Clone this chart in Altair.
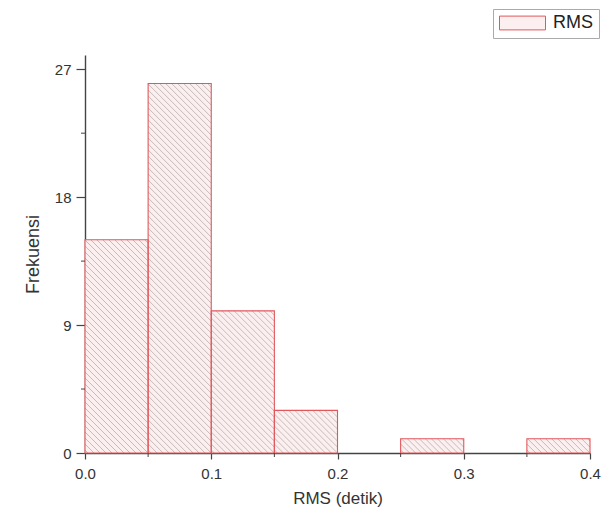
import altair as alt
import pandas as pd
import numpy as np

# data
bin_start = [0.0, 0.05, 0.10, 0.15, 0.20, 0.25, 0.30, 0.35]
bin_end = [0.05, 0.10, 0.15, 0.20, 0.25, 0.30, 0.35, 0.40]
freq = [15, 26, 10, 3, 0, 1, 0, 1]
series = "RMS"
y_ticks = [0, 9, 18, 27]
y_minor = [4.5, 13.5, 22.5]
x_ticks = [0.0, 0.1, 0.2, 0.3, 0.4]
x_minor = [0.05, 0.15, 0.25, 0.35]

W, H = 505, 398
XMAX, YMAX = 0.4, 28

bars = pd.DataFrame({"x0": bin_start, "x1": bin_end, "f": freq, "s": series})
bars = bars[bars["f"] > 0]

# hatch segments (pattern fill emulation), derived from the bars
kx, ky = W / XMAX, H / YMAX
step = 6.0
segs = []
for _, r in bars.iterrows():
    X0, X1, Hh = r.x0 * kx, r.x1 * kx, r.f * ky
    c = X0 + step / 2
    while c < X1 + Hh:
        sx = max(X0, c - Hh)
        ex = min(X1, c)
        if ex > sx:
            segs.append({"hx": sx / kx, "hy": (c - sx) / ky,
                         "hx2": ex / kx, "hy2": (c - ex) / ky})
        c += step
hatch = pd.DataFrame(segs)

RED = "#e0585c"
xs = alt.Scale(domain=[0, XMAX], nice=False, zero=False)
ys = alt.Scale(domain=[0, YMAX], nice=False)
xaxis = alt.Axis(values=x_ticks, format=".1f", title="RMS (detik)", labelFlush=False,
                 grid=False, tickSize=6, labelPadding=7, titlePadding=9,
                 titleFontSize=17)
yaxis = alt.Axis(values=y_ticks, title="Frekuensi", grid=False, labelFlush=False,
                 tickSize=9, labelPadding=5, titlePadding=12, titleFontSize=18)

fill_layer = alt.Chart(bars).mark_rect(strokeWidth=0).encode(
    x=alt.X("x0:Q", scale=xs, axis=xaxis),
    x2="x1:Q",
    y=alt.Y("f:Q", scale=ys, axis=yaxis),
    y2=alt.datum(0),
    fill=alt.Fill("s:N", scale=alt.Scale(range=["#fcefef"]),
                  legend=alt.Legend(title=None, orient="none", legendX=408, legendY=-46,
                                    symbolType="M-1,-0.3L1,-0.3L1,0.3L-1,0.3Z",
                                    symbolSize=2116, symbolStrokeColor=RED,
                                    symbolFillColor="#f7dada",
                                    symbolStrokeWidth=1, symbolOpacity=1, clipHeight=16,
                                    labelFontSize=18, labelFont="Liberation Sans",
                                    labelColor="#222", strokeColor="#aaa", padding=6,
                                    fillColor="white", labelOffset=7)))

hatch_layer = alt.Chart(hatch).mark_rule(color="#b8adad", strokeWidth=0.8).encode(
    x=alt.X("hx:Q", scale=xs, axis=xaxis),
    y=alt.Y("hy:Q", scale=ys, axis=yaxis),
    x2="hx2:Q", y2="hy2:Q")

outline_layer = alt.Chart(bars).mark_rect(fill=None, filled=False, stroke=RED,
                                          strokeWidth=1.1).encode(
    x=alt.X("x0:Q", scale=xs, axis=xaxis),
    x2="x1:Q",
    y=alt.Y("f:Q", scale=ys, axis=yaxis),
    y2=alt.datum(0))

ymin_df = pd.DataFrame({"v": y_minor})
xmin_df = pd.DataFrame({"v": x_minor})
ymin_layer = alt.Chart(ymin_df).mark_rule(color="#444", strokeWidth=1).encode(
    y=alt.Y("v:Q", scale=ys, axis=yaxis), x=alt.value(-4), x2=alt.value(0))
xmin_layer = alt.Chart(xmin_df).mark_rule(color="#444", strokeWidth=1).encode(
    x=alt.X("v:Q", scale=xs, axis=xaxis), y=alt.value(H), y2=alt.value(H + 4))

chart = alt.layer(fill_layer, hatch_layer, outline_layer, ymin_layer, xmin_layer).properties(
    width=W, height=H,
    autosize=alt.AutoSizeParams(type="none"),
    padding={"left": 85, "top": 55, "right": 16, "bottom": 59},
).configure_view(stroke=None).configure_axis(
    domainColor="#444", tickColor="#444", labelColor="#333", titleColor="#333",
    labelFont="Liberation Sans", titleFont="Liberation Sans",
    labelFontSize=15, titleFontWeight="normal", domainWidth=1.4,
    tickWidth=1.2
)

chart.save("out.html", embed_options={"renderer": "svg", "actions": False})
